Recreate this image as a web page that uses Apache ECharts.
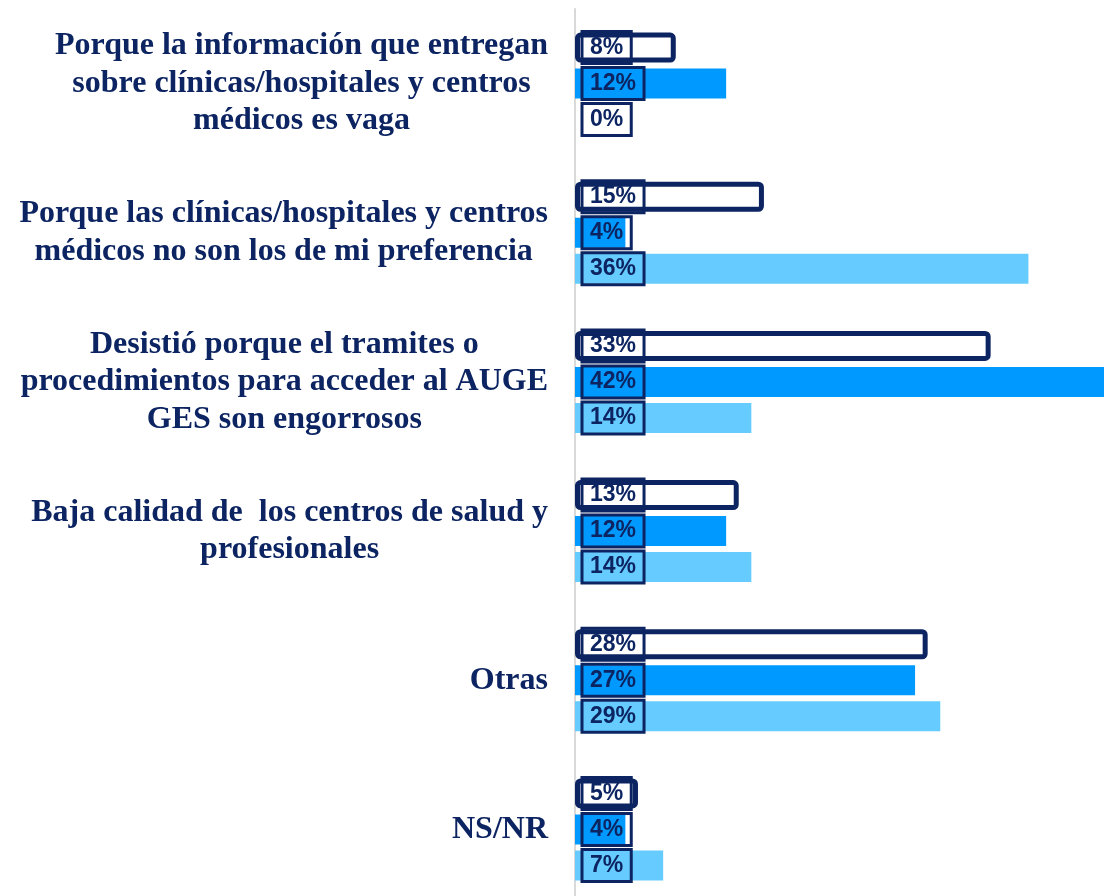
<!DOCTYPE html>
<html>
<head>
<meta charset="utf-8">
<script src="https://cdn.jsdelivr.net/npm/echarts@6/dist/echarts.min.js"></script>
<style>
  html, body { margin: 0; padding: 0; background: #ffffff; overflow: hidden; }
  #chart { width: 1104px; height: 904px; }
</style>
</head>
<body>
<div id="chart"></div>
<script>
// Reasons (one line per array entry so each category can be centred line by line)
const categories = [
  ['Porque la información que entregan', 'sobre clínicas/hospitales y centros', 'médicos es vaga'],
  ['Porque las clínicas/hospitales y centros', 'médicos no son los de mi preferencia'],
  ['Desistió porque el tramites o', 'procedimientos para acceder al AUGE', 'GES son engorrosos'],
  ['Baja calidad de  los centros de salud y', 'profesionales'],
  ['Otras'],
  ['NS/NR']
];

// Percentages for the three groups
const seriesA = [8, 15, 33, 13, 28, 5];
const seriesB = [12, 4, 42, 12, 27, 4];
const seriesC = [0, 36, 14, 14, 29, 7];

const NAVY = '#0c2461';

const labelStyle = {
  show: true,
  position: 'insideLeft',
  distance: 7,
  formatter: '{c}%',
  fontFamily: '"Liberation Sans", Arial, sans-serif',
  fontWeight: 'bold',
  fontSize: 23,
  color: NAVY,
  borderColor: NAVY,
  borderWidth: 1.5,
  padding: [5, 8, 4, 8],
  backgroundColor: 'transparent'
};

const chart = echarts.init(document.getElementById('chart'));
chart.setOption({
  animation: false,
  grid: { left: 575, right: 0, top: 9, bottom: 0, containLabel: false },
  xAxis: {
    type: 'value', min: 0, max: 42, show: false
  },
  yAxis: {
    type: 'category',
    inverse: true,
    data: categories.map(lines => lines.join('\n')),
    axisLine: { show: true, lineStyle: { color: '#d9d9d9', width: 2 } },
    axisTick: { show: false },
    splitLine: { show: false },
    axisLabel: {
      margin: 27,
      formatter: v => v.split('\n').map(l => '{c|' + l + '}').join('\n'),
      rich: {
        c: {
          align: 'center',
          fontFamily: '"Liberation Serif", "Times New Roman", serif',
          fontWeight: 'bold',
          fontSize: 32,
          lineHeight: 37.5,
          color: NAVY
        }
      }
    }
  },
  series: [
    {
      type: 'bar', data: seriesA, barWidth: 30, barGap: '20%',
      itemStyle: { color: '#ffffff', borderColor: NAVY, borderWidth: 5, borderRadius: 3 },
      label: labelStyle
    },
    {
      type: 'bar', data: seriesB, barWidth: 30, barGap: '20%',
      itemStyle: { color: '#0099ff' },
      label: labelStyle
    },
    {
      type: 'bar', data: seriesC, barWidth: 30, barGap: '20%',
      itemStyle: { color: '#66ccff' },
      label: labelStyle
    }
  ]
});
</script>
</body>
</html>
